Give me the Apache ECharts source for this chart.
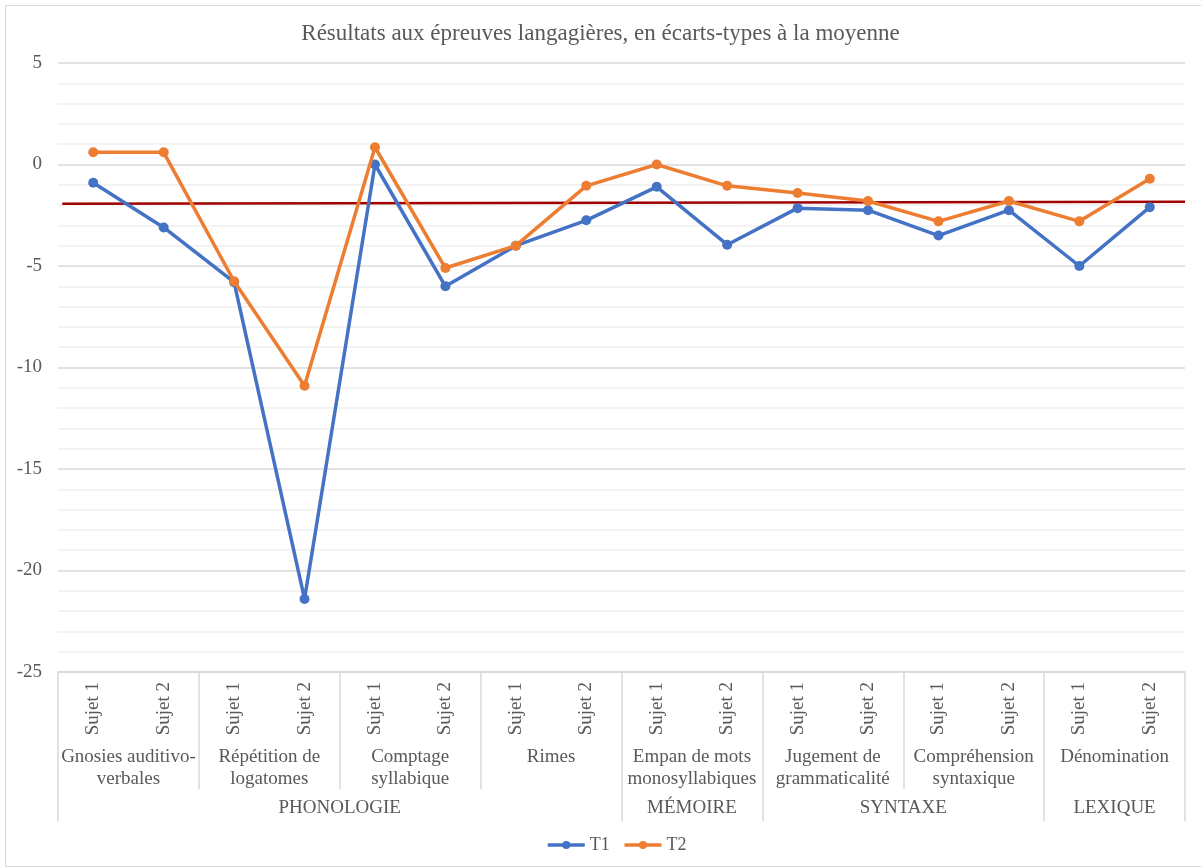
<!DOCTYPE html>
<html>
<head>
<meta charset="utf-8">
<script src="https://cdn.jsdelivr.net/npm/echarts@6/dist/echarts.min.js"></script>
<style>
  html, body { margin: 0; padding: 0; background: #fff; }
  #frame { position: absolute; left: 5px; top: 5px; width: 1200px; height: 862px; border: 1.5px solid #d9d9d9; box-sizing: border-box; }
  #chart { position: absolute; left: 0; top: 0; width: 1201px; height: 868px; }
</style>
</head>
<body>
<div id="frame"></div>
<div id="chart"></div>
<script>
  const sujets = ['Sujet 1', 'Sujet 2', 'Sujet 1', 'Sujet 2', 'Sujet 1', 'Sujet 2', 'Sujet 1', 'Sujet 2',
    'Sujet 1', 'Sujet 2', 'Sujet 1', 'Sujet 2', 'Sujet 1', 'Sujet 2', 'Sujet 1', 'Sujet 2'];
  const epreuves = ['Gnosies auditivo-\nverbales', 'Répétition de\nlogatomes', 'Comptage\nsyllabique', 'Rimes',
    'Empan de mots\nmonosyllabiques', 'Jugement de\ngrammaticalité', 'Compréhension\nsyntaxique', 'Dénomination'];
  const domaines = ['PHONOLOGIE', 'MÉMOIRE', 'SYNTAXE', 'LEXIQUE'];
  // domain boundaries, counted in subjects
  const domaineBornes = [0, 8, 10, 14, 16];

  const t1 = [-0.9, -3.1, -5.8, -21.4, 0.0, -6.0, -4.0, -2.75, -1.1, -3.95, -2.15, -2.25, -3.5, -2.25, -5.0, -2.1];
  const t2 = [0.6, 0.6, -5.75, -10.9, 0.85, -5.1, -4.0, -1.05, 0.0, -1.05, -1.4, -1.8, -2.8, -1.8, -2.8, -0.7];
  // seuil tracé à la main sur le graphique original (début, fin)
  const seuil = [[0.06, -1.93], [16, -1.83]];

  const yTicks = { min: -25, max: 5, interval: 5 };

  const font = "'Liberation Serif', 'Times New Roman', serif";
  const grey = '#595959';

  const domaineCentres = domaines.map((d, i) => (domaineBornes[i] + domaineBornes[i + 1]) / 2);

  const chart = echarts.init(document.getElementById('chart'));
  chart.setOption({
    animation: false,
    textStyle: { fontFamily: font },
    title: {
      text: 'Résultats aux épreuves langagières, en écarts-types à la moyenne',
      left: 'center', top: 17,
      textStyle: { fontFamily: font, fontSize: 23, fontWeight: 'normal', color: grey }
    },
    legend: {
      data: ['T1', 'T2'],
      bottom: 9, left: 541,
      itemWidth: 37, itemHeight: 10, itemGap: 13,
      lineStyle: { width: 3.5 },
      textStyle: { fontFamily: font, fontSize: 18, color: grey }
    },
    grid: { left: 58, right: 16, top: 63, bottom: 196 },
    xAxis: [
      {
        type: 'category', data: sujets, position: 'bottom',
        axisLine: { onZero: false, lineStyle: { color: '#d9d9d9', width: 1.5 } },
        axisTick: { show: false },
        axisLabel: { rotate: 90, margin: 10, fontSize: 19, color: grey, fontFamily: font }
      },
      {
        type: 'category', data: epreuves, position: 'bottom',
        axisLine: { show: false, onZero: false },
        axisTick: { show: true, inside: false, length: 117, lineStyle: { color: '#d9d9d9', width: 1.5 } },
        axisLabel: { margin: 74, fontSize: 19, lineHeight: 22, color: grey, fontFamily: font, interval: 0 }
      },
      {
        type: 'value', min: 0, max: 16, position: 'bottom',
        axisLine: { show: false, onZero: false },
        splitLine: { show: false },
        axisTick: { show: true, length: 149, customValues: domaineBornes, lineStyle: { color: '#d9d9d9', width: 1.5 } },
        axisLabel: {
          margin: 127, fontSize: 19, color: grey, fontFamily: font,
          customValues: domaineCentres,
          formatter: v => domaines[domaineCentres.indexOf(v)] || ''
        }
      }
    ],
    yAxis: {
      type: 'value', min: yTicks.min, max: yTicks.max, interval: yTicks.interval,
      axisLine: { show: false }, axisTick: { show: false },
      axisLabel: { margin: 16, fontSize: 19, color: grey, fontFamily: font },
      splitLine: { lineStyle: { color: '#d9d9d9', width: 1.5 } },
      minorTick: { show: false, splitNumber: 5 },
      minorSplitLine: { show: true, lineStyle: { color: '#f0f0f0', width: 1.5 } }
    },
    series: [
      {
        name: 'seuil', type: 'line', xAxisIndex: 2, data: seuil,
        symbol: 'none', silent: true, z: 1,
        lineStyle: { color: '#a00000', width: 2.5 }
      },
      {
        name: 'T1', type: 'line', data: t1, xAxisIndex: 0,
        symbol: 'circle', symbolSize: 10, z: 3,
        itemStyle: { color: '#4472c4' },
        lineStyle: { color: '#4472c4', width: 3.5 }
      },
      {
        name: 'T2', type: 'line', data: t2, xAxisIndex: 0,
        symbol: 'circle', symbolSize: 10, z: 4,
        itemStyle: { color: '#ed7d31' },
        lineStyle: { color: '#ed7d31', width: 3.5 }
      }
    ]
  });
</script>
</body>
</html>
